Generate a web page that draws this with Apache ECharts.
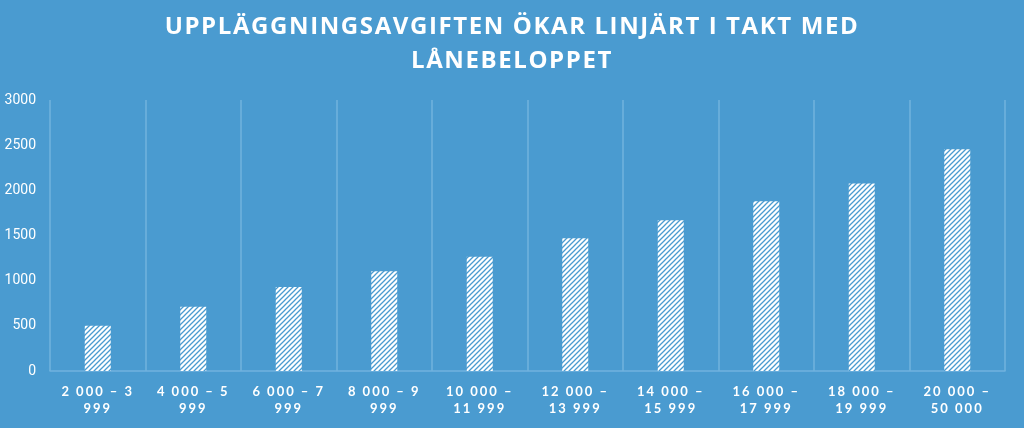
<!DOCTYPE html>
<html><head><meta charset="utf-8">
<script src="https://cdn.jsdelivr.net/npm/echarts@6/dist/echarts.min.js"></script>
<style>html,body{margin:0;padding:0;background:#4a9bd0;}#c{width:1024px;height:428px;}</style>
</head><body><div id="c"></div>
<script>
const titleText = 'UPPLÄGGNINGSAVGIFTEN ÖKAR LINJÄRT I TAKT MED\nLÅNEBELOPPET';
const categories = ['2 000 – 3\n999','4 000 – 5\n999','6 000 – 7\n999','8 000 – 9\n999','10 000 –\n11 999','12 000 –\n13 999','14 000 –\n15 999','16 000 –\n17 999','18 000 –\n19 999','20 000 –\n50 000'];
const fees = [500, 710, 930, 1105, 1265, 1470, 1670, 1880, 2075, 2455];
const yTicks = {min: 0, max: 3000, interval: 500};

// letter-spaced text: category labels (Lato) and title (Open Sans)
const origFill = CanvasRenderingContext2D.prototype.fillText;
CanvasRenderingContext2D.prototype.fillText = function (t, x, y, m) {
  let ls = null;
  if (/Lato/.test(this.font)) ls = '2px';
  else if (/Open Sans/.test(this.font)) ls = '1.6px';
  if (ls === null) {
    return m === undefined ? origFill.call(this, t, x, y) : origFill.call(this, t, x, y, m);
  }
  this.save();
  this.letterSpacing = ls;
  const r = m === undefined ? origFill.call(this, t, x, y) : origFill.call(this, t, x, y, m);
  this.restore();
  return r;
};

const bg = '#4a9bd0';
const tile = document.createElement('canvas');
tile.width = 5; tile.height = 5;
const tc = tile.getContext('2d');
tc.fillStyle = '#ffffff'; tc.fillRect(0,0,5,5);
tc.strokeStyle = bg; tc.lineWidth = 1.3;
tc.beginPath();
tc.moveTo(-1,6); tc.lineTo(6,-1);
tc.moveTo(-1,1); tc.lineTo(1,-1);
tc.moveTo(4,6); tc.lineTo(6,4);
tc.stroke();

const chart = echarts.init(document.getElementById('c'));
chart.setOption({
  backgroundColor: bg,
  animation: false,
  title: {
    text: titleText, left: 'center', top: 5,
    textStyle: {color: '#ffffff', fontFamily: '"Open Sans",sans-serif', fontWeight: 'bold', fontSize: 24, lineHeight: 34}
  },
  grid: {left: 50, right: 19, top: 100, bottom: 57},
  xAxis: {
    type: 'category', data: categories,
    axisLine: {lineStyle: {color: '#72b3de', width: 1.5}},
    axisTick: {show: false},
    splitLine: {show: true, lineStyle: {color: '#72b3de', width: 1.5}},
    axisLabel: {interval: 0, color: '#ffffff', fontWeight: 'bold', fontSize: 13, lineHeight: 17, margin: 12, fontFamily: 'Lato,sans-serif'}
  },
  yAxis: {
    type: 'value', min: yTicks.min, max: yTicks.max, interval: yTicks.interval,
    axisLine: {show: false}, axisTick: {show: false}, splitLine: {show: false},
    axisLabel: {color: '#ffffff', fontSize: 14, margin: 14, fontFamily: 'Roboto,sans-serif', formatter: v => String(v)}
  },
  series: [{
    type: 'bar', data: fees, barWidth: 26,
    itemStyle: {color: {image: tile, repeat: 'repeat'}}
  }]
});
</script></body></html>
